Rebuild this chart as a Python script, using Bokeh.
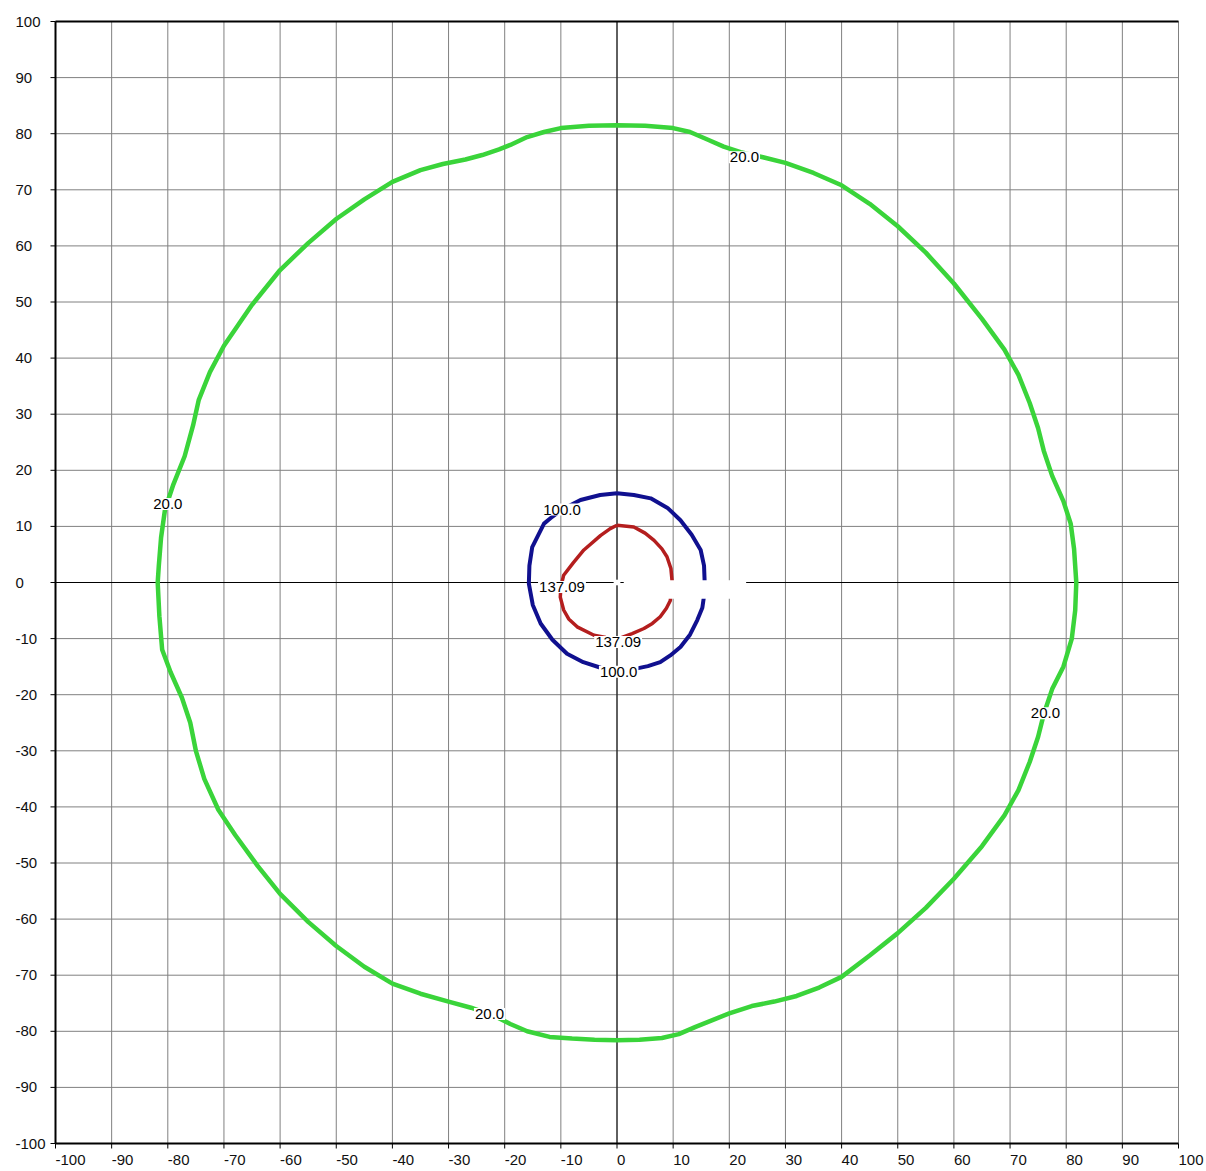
from bokeh.plotting import figure
from bokeh.models import Range1d
from bokeh.core.properties import value
from bokeh.embed import file_html
from bokeh.resources import INLINE

# ---- data ----
ticks = [-100, -90, -80, -70, -60, -50, -40, -30, -20, -10, 0, 10, 20, 30, 40, 50, 60, 70, 80, 90, 100]
tick_labels = ["-100", "-90", "-80", "-70", "-60", "-50", "-40", "-30", "-20", "-10", "0",
               "10", "20", "30", "40", "50", "60", "70", "80", "90", "100"]

# contour level 20.0 (green)
green_x = [0, -5, -10, -13, -16, -19, -21, -24, -27, -31, -35, -40, -45, -50, -55, -60, -65, -70, -72.5,
           -74.5, -75.5, -77, -79, -80.5, -81.2, -81.6, -81.8, -81.5, -81, -79.5, -77.5, -76, -75, -73.5,
           -71, -68, -64, -60, -55, -50, -45, -40, -35, -30, -26, -22, -19, -16, -12, -8, -4, 0, 4, 8, 11,
           14, 17, 20, 24, 28, 32, 36, 40, 45, 50, 55, 60, 65, 69, 71.5, 73.5, 75, 76, 77.5, 79.5, 81,
           81.6, 81.8, 81.4, 80.8, 79.5, 77.5, 76, 75, 73.5, 71.5, 69, 65, 60, 55, 50, 45, 40, 35, 30, 26,
           22, 19, 16, 13, 10, 5, 0]
green_y = [81.5, 81.4, 81, 80.3, 79.4, 78, 77.2, 76.2, 75.4, 74.6, 73.5, 71.4, 68.3, 64.8, 60.5, 55.7,
           49.5, 42.2, 37.5, 32.5, 28, 22.5, 17.5, 13, 8, 3, 0, -6, -12, -16, -20.5, -25, -30, -35, -40.5,
           -45, -50.5, -55.5, -60.5, -64.8, -68.5, -71.5, -73.3, -74.7, -75.8, -77.2, -78.7, -80, -81,
           -81.3, -81.5, -81.6, -81.5, -81.2, -80.5, -79.2, -78, -76.8, -75.5, -74.7, -73.7, -72.2, -70.3,
           -66.5, -62.5, -58, -52.8, -47, -41.5, -37, -32, -27.5, -23.5, -19, -15, -10, -5, 0, 6, 10.5,
           14.5, 19, 23.5, 27.5, 32, 37, 41.5, 47, 53.3, 58.8, 63.5, 67.5, 70.8, 73, 74.8, 75.8, 76.7,
           77.7, 79, 80.3, 81, 81.4, 81.5]

# contour level 100.0 (blue)
blue_x = [0, 3, 6, 9, 11.3, 13.3, 14.9, 15.5, 15.6, 15.6, 15.2, 14.3, 13, 11.3, 9.5, 7.7, 5.5, 3.6, 0.3,
          -2.9, -6, -8.9, -11.5, -13.6, -15, -15.7, -15.6, -15.1, -13, -11.8, -9.8, -6.5, -3, 0]
blue_y = [15.9, 15.6, 15, 13.3, 11.1, 8.5, 5.8, 3, 0.4, -1.7, -4.5, -6.7, -9.3, -11.5, -13, -14.2, -14.9,
          -15.3, -15.9, -15.2, -14.2, -12.7, -10.2, -7.3, -4, -0.2, 3, 6.3, 10.5, 11.5, 13, 14.7, 15.6, 15.9]

# contour level 137.09 (red)
red_x = [0, 3, 5, 6.6, 8, 8.9, 9.6, 9.8, 9.6, 9.5, 8.8, 7.7, 6.3, 4.8, 2.7, 0.3, -2, -4.1, -7.1, -8.6,
         -9.5, -10.1, -10, -9.5, -7.8, -5.9, -2.9, -1.2, 0]
red_y = [10.2, 9.9, 8.8, 7.5, 6, 4.6, 2.5, 0.4, -1.5, -3.2, -4.6, -6.1, -7.3, -8.2, -9.1, -10, -9.8, -9.4,
         -7.9, -6.5, -4.9, -2.6, -0.8, 1.3, 3.5, 5.8, 8.4, 9.6, 10.2]

# contour value labels
label_text = ["20.0", "20.0", "20.0", "20.0", "100.0", "100.0", "137.09", "137.09"]
label_x = [22.7, -80.0, 76.3, -22.7, -9.8, 0.3, -9.8, 0.2]
label_y = [75.8, 14.0, -23.3, -76.9, 13.0, -15.9, -0.8, -10.6]

# blank (empty) label areas
blank_x0 = [-0.6, 1.2]
blank_x1 = [0.6, 23.0]
blank_y0 = [-0.5, -2.9]
blank_y1 = [0.5, 0.4]

# ---- layout (pixels) ----
W, H = 1204, 1170
FL, FR, FT, FB = 55, 1178, 21, 1143      # edges of the -100..100 data box on the canvas
lo, hi = ticks[0], ticks[-1]
ux = (hi - lo) / (FR - FL)               # data units per pixel
uy = (hi - lo) / (FB - FT)

FONT = "Liberation Sans"
p = figure(frame_width=W, frame_height=H, min_border=0,
           x_range=Range1d(lo - FL * ux, hi + (W - FR) * ux),
           y_range=Range1d(lo - (H - FB) * uy, hi + FT * uy),
           x_axis_type=None, y_axis_type=None,
           output_backend="svg", toolbar_location=None,
           background_fill_color="white", border_fill_color="white")
p.outline_line_color = None
p.grid.visible = False

n = len(ticks)
# grid
p.segment(x0=ticks, y0=[lo] * n, x1=ticks, y1=[hi] * n, line_color="#808080", line_width=1)
p.segment(x0=[lo] * n, y0=ticks, x1=[hi] * n, y1=ticks, line_color="#808080", line_width=1)
# zero axes
p.segment(x0=[lo, 0], y0=[0, lo], x1=[hi, 0], y1=[0, hi], line_color="black", line_width=1)
# frame: left, bottom, top
p.segment(x0=[lo, lo, lo], y0=[lo, lo, hi], x1=[lo, hi, hi], y1=[hi, lo, hi], line_color="black", line_width=2)
# tick marks
TK = 5
p.segment(x0=[lo - TK * ux] * n, y0=ticks, x1=[lo] * n, y1=ticks, line_color="black", line_width=1)
p.segment(x0=ticks, y0=[lo - TK * uy] * n, x1=ticks, y1=[lo] * n, line_color="black", line_width=1)
# tick labels
p.text(x=[lo] * n, y=ticks, text=tick_labels, x_offset=-40, text_align="left", text_baseline="middle",
       text_font=value(FONT), text_font_size="15px", text_color="#111111")
p.text(x=ticks, y=[lo] * n, text=tick_labels, y_offset=11, text_align="left", text_baseline="top",
       text_font=value(FONT), text_font_size="15px", text_color="#111111")

# contours
p.line(green_x, green_y, line_color="#3ad43a", line_width=4.5, line_join="round")
p.line(blue_x, blue_y, line_color="#10108f", line_width=4, line_join="round")
p.line(red_x, red_y, line_color="#b41e1e", line_width=3.5, line_join="round")

p.quad(left=blank_x0, right=blank_x1, bottom=blank_y0, top=blank_y1, fill_color="white", line_color=None)

p.text(x=label_x, y=label_y, text=label_text, text_font=value(FONT), text_font_size="15px",
       text_align="center", text_baseline="middle", text_color="black",
       background_fill_color="white", padding=1)

open("out.html", "w").write(file_html(p, INLINE))
